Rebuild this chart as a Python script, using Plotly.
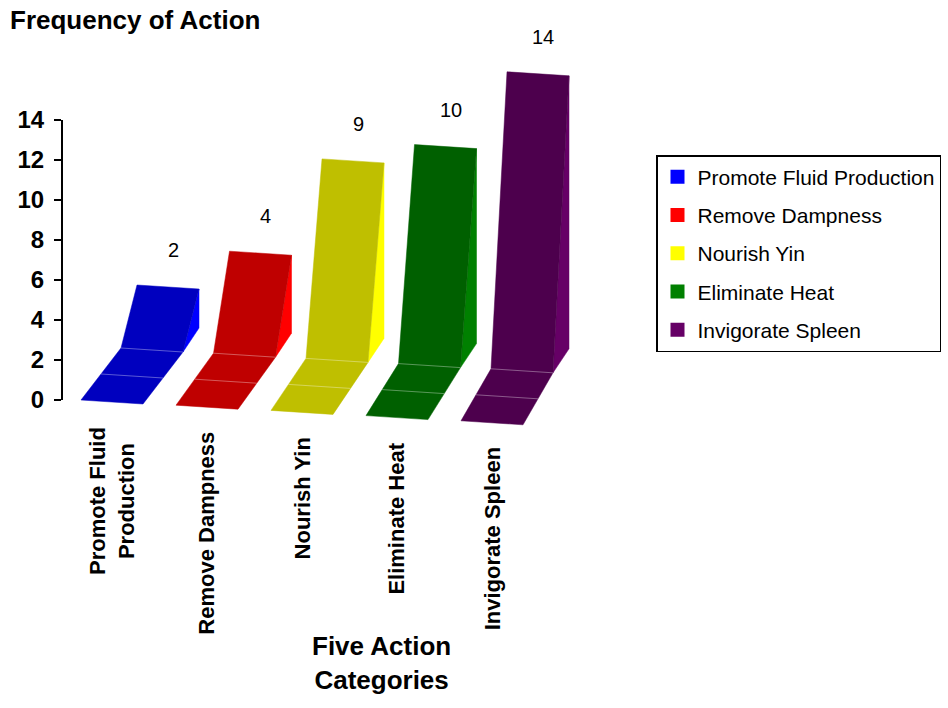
import plotly.graph_objects as go

# ---------------- data ----------------
categories = ["Promote Fluid Production", "Remove Dampness", "Nourish Yin",
              "Eliminate Heat", "Invigorate Spleen"]
axis_labels = ["Promote Fluid<br>Production", "Remove Dampness", "Nourish Yin",
               "Eliminate Heat", "Invigorate Spleen"]
values = [2, 4, 9, 10, 14]
front_colors = ["#0000BF", "#BF0000", "#BFBF00", "#006000", "#4D004D"]
side_colors = ["#0000FF", "#FF0000", "#FFFF00", "#008000", "#660066"]
y_ticks = [0, 2, 4, 6, 8, 10, 12, 14]

# ---------------- pseudo-3D projection parameters ----------------
X0, STEP, W = 19, 95, 62          # horizontal placement (x-axis units)
DROP, SKEW = 0.26, 0.2            # floor drop per bar / right-edge skew (y units)
DDX0, DDX_STEP, DDY = 40, 2.5, 2.6  # depth vector of the floor ramp
LEAN = 16                          # horizontal lean of the face
H_SCALE, H_BASE = 0.975, 1.2       # face height from value
SIDE_BOTTOM = 1.2
YMIN, YMAX = -2.5, 19.5
FONT = "Liberation Sans"

fig = go.Figure()

for i, (cat, v) in enumerate(zip(categories, values)):
    x0 = X0 + STEP * i
    y0 = -DROP * i
    ddx = DDX0 - DDX_STEP * i
    h = H_SCALE * v + H_BASE
    A = (x0, y0)
    B = (x0 + W, y0 - SKEW)
    D = (x0 + ddx, y0 + DDY)
    C = (x0 + ddx + W, y0 + DDY - SKEW)
    CT = (C[0] + LEAN, C[1] + h)
    DT = (D[0] + LEAN, D[1] + h)
    CS = (C[0] + LEAN, C[1] + SIDE_BOTTOM)
    # side face
    fig.add_trace(go.Scatter(
        x=[C[0], CT[0], CS[0], C[0]], y=[C[1], CT[1], CS[1], C[1]],
        fill="toself", fillcolor=side_colors[i], mode="lines",
        line=dict(width=0.5, color=side_colors[i]), showlegend=False, hoverinfo="skip"))
    # floor ramp + front face
    fig.add_trace(go.Scatter(
        x=[A[0], B[0], C[0], CT[0], DT[0], D[0], A[0]],
        y=[A[1], B[1], C[1], CT[1], DT[1], D[1], A[1]],
        fill="toself", fillcolor=front_colors[i], mode="lines",
        line=dict(width=0.5, color=front_colors[i]), showlegend=False,
        name=cat, hoverinfo="name"))
    # seams
    M1 = ((A[0] + D[0]) / 2, (A[1] + D[1]) / 2)
    M2 = ((B[0] + C[0]) / 2, (B[1] + C[1]) / 2)
    fig.add_trace(go.Scatter(
        x=[M1[0], M2[0], None, D[0], C[0]], y=[M1[1], M2[1], None, D[1], C[1]],
        mode="lines", line=dict(width=1, color="rgba(255,255,255,0.35)"),
        showlegend=False, hoverinfo="skip"))
    # value label
    fig.add_annotation(x=(DT[0] + CT[0]) / 2 + 5, y=(DT[1] + CT[1]) / 2 + 1.85,
                       text=str(v), showarrow=False, yanchor="middle",
                       font=dict(family=FONT, size=20, color="black"))
    # category label
    fig.add_annotation(x=x0 + W / 2, y=y0 - 1.25, text="<b>%s</b>" % axis_labels[i],
                       textangle=-90, xanchor="center", yanchor="top", showarrow=False,
                       font=dict(family=FONT, size=22, color="black"))

# legend entries
for cat, col in zip(categories, side_colors):
    fig.add_trace(go.Scatter(x=[None], y=[None], mode="markers", name=cat,
                             legendgroup=cat,
                             marker=dict(symbol="square", size=14, color=col)))

def paper_y(u):
    return (u - YMIN) / (YMAX - YMIN)

fig.add_annotation(xref="x", yref="paper", x=319, y=paper_y(-13.15),
                   text="<b>Five Action<br>Categories</b>", showarrow=False,
                   xanchor="center", yanchor="middle",
                   font=dict(family=FONT, size=26, color="black"))

# y axis line 0..14
fig.add_shape(type="line", xref="paper", yref="y", x0=0, x1=0, y0=0, y1=max(y_ticks),
              line=dict(color="black", width=2))

fig.update_layout(
    width=948, height=708,
    margin=dict(l=62, r=286, t=10, b=258, autoexpand=False),
    paper_bgcolor="white", plot_bgcolor="white",
    title=dict(text="<b>Frequency of Action</b>", xref="container", yref="container",
               x=10 / 948, xanchor="left", y=1 - 20 / 708, yanchor="middle",
               font=dict(family=FONT, size=26, color="black")),
    xaxis=dict(range=[0, 600], visible=False, fixedrange=True),
    yaxis=dict(range=[YMIN, YMAX], tickvals=y_ticks, ticktext=[str(t) for t in y_ticks],
               ticks="outside", ticklen=7, tickwidth=2, tickcolor="black",
               showline=False, showgrid=False, zeroline=False, ticklabelstandoff=5,
               tickfont=dict(family=FONT, size=24, color="black", weight="bold"),
               fixedrange=True),
    legend=dict(x=(656 - 62) / 600, xanchor="left", y=(450 - 155) / 440, yanchor="top",
                bordercolor="black", borderwidth=1.5, bgcolor="white",
                font=dict(family=FONT, size=21, color="black"),
                tracegroupgap=8),
    showlegend=True,
)

fig.write_html("out.html")
